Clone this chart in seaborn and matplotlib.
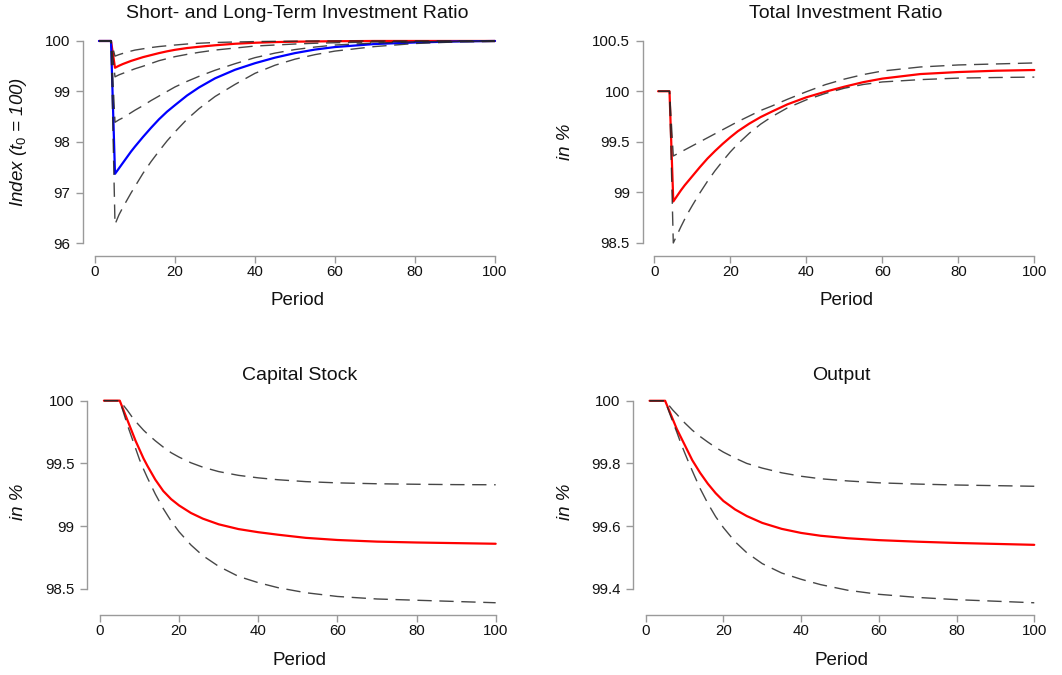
import matplotlib
matplotlib.use("Agg")
import matplotlib.pyplot as plt
from matplotlib.ticker import FuncFormatter
import seaborn as sns

# ---- data -------------------------------------------------------------
# Short- and long-term investment ratio (index, t0 = 100)
periods_ratio = [1, 4, 5, 6, 7, 8, 9, 10, 12, 14, 16, 18, 20, 23, 26, 30, 35, 40, 45, 50, 55, 60,
                 70, 80, 90, 100]
short_mid = [100, 100, 99.47, 99.51, 99.545, 99.575, 99.605, 99.63, 99.68, 99.72, 99.76, 99.795,
             99.825, 99.86, 99.885, 99.915, 99.945, 99.965, 99.978, 99.986, 99.991, 99.995,
             100, 100, 100, 100]
short_hi = [100, 100, 99.70, 99.73, 99.755, 99.78, 99.80, 99.82, 99.845, 99.87, 99.89, 99.905,
            99.92, 99.94, 99.955, 99.97, 99.98, 99.988, 99.993, 99.996, 100, 100,
            100, 100, 100, 100]
short_lo = [100, 100, 99.29, 99.33, 99.36, 99.39, 99.42, 99.45, 99.50, 99.555, 99.61, 99.65,
            99.69, 99.735, 99.775, 99.82, 99.86, 99.90, 99.92, 99.94, 99.955, 99.965,
            99.98, 99.99, 99.995, 100]
long_mid = [100, 100, 97.37, 97.48, 97.59, 97.70, 97.81, 97.91, 98.10, 98.28, 98.45, 98.60,
            98.73, 98.92, 99.08, 99.26, 99.43, 99.56, 99.67, 99.76, 99.83, 99.88,
            99.94, 99.97, 99.99, 100]
long_hi = [100, 100, 98.39, 98.44, 98.48, 98.53, 98.58, 98.63, 98.72, 98.82, 98.91, 99.00,
           99.09, 99.20, 99.30, 99.42, 99.55, 99.67, 99.76, 99.83, 99.88, 99.92,
           99.96, 99.98, 99.99, 100]
long_lo = [100, 100, 96.37, 96.56, 96.71, 96.85, 96.99, 97.12, 97.38, 97.61, 97.82, 98.02,
           98.20, 98.45, 98.66, 98.90, 99.14, 99.36, 99.52, 99.64, 99.73, 99.80,
           99.89, 99.95, 99.98, 99.99]

# Total investment ratio (in %)
periods_total = [1, 4, 5, 6, 7, 8, 9, 10, 12, 14, 16, 18, 20, 22, 25, 28, 31, 35, 40, 45, 50,
                 55, 60, 70, 80, 90, 100]
total_mid = [100, 100, 98.91, 98.965, 99.02, 99.07, 99.115, 99.16, 99.25, 99.335, 99.41, 99.48,
             99.545, 99.605, 99.68, 99.745, 99.80, 99.87, 99.94, 99.995, 100.045, 100.09, 100.125,
             100.17, 100.19, 100.203, 100.21]
total_hi = [100, 100, 99.36, 99.38, 99.40, 99.42, 99.44, 99.46, 99.50, 99.54, 99.58, 99.62,
            99.66, 99.70, 99.755, 99.81, 99.855, 99.92, 99.995, 100.065, 100.12, 100.165, 100.20,
            100.24, 100.26, 100.27, 100.28]
total_lo = [100, 100, 98.50, 98.58, 98.66, 98.735, 98.805, 98.87, 98.995, 99.11, 99.215, 99.31,
            99.40, 99.48, 99.585, 99.675, 99.75, 99.835, 99.915, 99.978, 100.03, 100.067, 100.092,
            100.115, 100.13, 100.136, 100.14]

# Capital stock and output (in %)
periods_slow = [1, 5, 6, 7, 8, 9, 10, 11, 12, 14, 16, 18, 20, 23, 26, 30, 35, 40, 45, 52, 60,
                70, 80, 90, 100]
capital_mid = [100, 100, 99.92, 99.84, 99.76, 99.68, 99.61, 99.54, 99.48, 99.37, 99.28, 99.215,
               99.165, 99.105, 99.06, 99.015, 98.977, 98.952, 98.932, 98.907, 98.89,
               98.877, 98.87, 98.865, 98.86]
capital_hi = [100, 100, 99.96, 99.92, 99.875, 99.835, 99.80, 99.765, 99.735, 99.68, 99.63, 99.585,
              99.55, 99.505, 99.47, 99.435, 99.405, 99.385, 99.37, 99.355, 99.345,
              99.338, 99.334, 99.331, 99.33]
capital_lo = [100, 100, 99.90, 99.80, 99.71, 99.62, 99.53, 99.455, 99.385, 99.255, 99.14, 99.04,
              98.955, 98.85, 98.765, 98.68, 98.60, 98.55, 98.51, 98.47, 98.44,
              98.42, 98.41, 98.40, 98.39]
output_mid = [100, 100, 99.97, 99.94, 99.91, 99.885, 99.86, 99.835, 99.81, 99.77, 99.735, 99.705,
              99.68, 99.653, 99.632, 99.61, 99.591, 99.578, 99.569, 99.561, 99.555,
              99.55, 99.546, 99.543, 99.54]
output_hi = [100, 100, 99.985, 99.97, 99.957, 99.943, 99.93, 99.918, 99.906, 99.886, 99.868, 99.851,
             99.836, 99.817, 99.80, 99.785, 99.77, 99.759, 99.751, 99.744, 99.738,
             99.734, 99.731, 99.729, 99.727]
output_lo = [100, 100, 99.965, 99.932, 99.90, 99.866, 99.835, 99.805, 99.776, 99.72, 99.672, 99.63,
             99.595, 99.55, 99.515, 99.48, 99.45, 99.43, 99.413, 99.395, 99.382,
             99.372, 99.365, 99.36, 99.355]

titles = ["Short- and Long-Term Investment Ratio", "Total Investment Ratio", "Capital Stock", "Output"]
ylabels = [r"Index ($t_{\mathit{0}}$ = 100)", "in %", "in %", "in %"]
yticks_all = [[96, 97, 98, 99, 100], [98.5, 99, 99.5, 100, 100.5], [98.5, 99, 99.5, 100],
              [99.4, 99.6, 99.8, 100]]
xticks = [0, 20, 40, 60, 80, 100]

# ---- style --------------------------------------------------------------
sns.set_style("white")
plt.rcParams["font.family"] = ["Liberation Sans", "DejaVu Sans"]
plt.rcParams["mathtext.fontset"] = "custom"
plt.rcParams["mathtext.it"] = "Liberation Sans:italic"
plt.rcParams["mathtext.rm"] = "Liberation Sans"

W, H = 1062, 675
fig = plt.figure(figsize=(W / 100, H / 100), dpi=100)

# pixel boxes (left, right, top, bottom) and limits of each panel
boxes = [(83, 511, 33, 256), (642.7, 1049.5, 33, 256), (87.3, 511.5, 392, 615.3), (633.3, 1049.8, 392, 615.3)]
xlims = [(-3.0, 104), (-3.05, 104), (-3.2, 104), (-3.19, 104)]
ylims = [(95.743, 100.158), (98.371, 100.576), (98.290, 100.069), (99.315, 100.028)]
title_base = [18.3, 18.3, 380, 380]
label_base = [305, 305, 665, 665]
ylab_x = [18, 565, 18.3, 565]
ylab_y = [142, 142, 501.7, 501.7]

RED, BLUE = "#FF0000", "#0000FF"
DASH_COLOR = (0.15, 0.15, 0.15)
GRAY = "#9a9a9a"
dash_style = (0, (10.3, 5.5))

panels = [
    (periods_ratio, [(short_mid, RED), (long_mid, BLUE)],
     [short_hi, short_lo, long_hi, long_lo]),
    (periods_total, [(total_mid, RED)], [total_hi, total_lo]),
    (periods_slow, [(capital_mid, RED)], [capital_hi, capital_lo]),
    (periods_slow, [(output_mid, RED)], [output_hi, output_lo]),
]

for i, (x, solid, bands) in enumerate(panels):
    l, r, t, b = boxes[i]
    ax = fig.add_axes([l / W, 1 - b / H, (r - l) / W, (b - t) / H])
    ax.set_facecolor("white")

    for vals, col in solid:
        sns.lineplot(x=x, y=vals, ax=ax, color=col, linewidth=1.6, legend=False,
                     errorbar=None, sort=False)
    for vals in bands:
        sns.lineplot(x=x, y=vals, ax=ax, color=DASH_COLOR, alpha=0.85, linewidth=1.0,
                     linestyle=dash_style, legend=False, errorbar=None, sort=False)

    ax.set_xlim(*xlims[i])
    ax.set_ylim(*ylims[i])
    ax.set_xticks(xticks)
    ax.set_yticks(yticks_all[i])
    fmt = FuncFormatter(lambda v, p: f"{v:g}")
    ax.xaxis.set_major_formatter(fmt)
    ax.yaxis.set_major_formatter(fmt)

    for side in ["top", "right"]:
        ax.spines[side].set_visible(False)
    for side in ["left", "bottom"]:
        ax.spines[side].set_color(GRAY)
        ax.spines[side].set_linewidth(1.0)
    ax.spines["left"].set_bounds(yticks_all[i][0], yticks_all[i][-1])
    ax.spines["bottom"].set_bounds(0, 100)

    ax.tick_params(axis="both", direction="out", length=5, width=1.0, color=GRAY,
                   labelsize=10.8, labelcolor="#111111")
    ax.tick_params(axis="y", pad=4.3)
    ax.tick_params(axis="x", pad=1.5)
    ax.tick_params(left=True, bottom=True)

    ax.set_title(titles[i], fontsize=14, color="#111111", pad=(t - title_base[i]) * 0.72)

    hpx = b - t
    wpx = r - l
    ax.set_xlabel("Period", fontsize=13.5, color="#111111", va="baseline")
    ax.xaxis.set_label_coords(0.5, -(label_base[i] - b) / hpx)
    ax.set_ylabel(ylabels[i], fontsize=13.5, color="#111111", fontstyle="italic",
                  ha="center", va="center", rotation=90, rotation_mode="default")
    ax.yaxis.set_label_coords((ylab_x[i] - l) / wpx, 1 - (ylab_y[i] - t) / hpx)

fig.savefig("out.png", dpi=100, facecolor="white")
